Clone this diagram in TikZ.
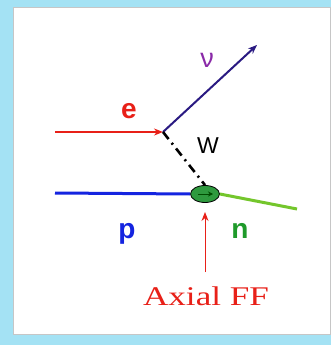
\documentclass[tikz,border=0pt]{standalone}
\usepackage{fontspec}
\setmainfont{Liberation Serif}
\newfontfamily\labelfont{Liberation Sans}
\usetikzlibrary{arrows.meta,positioning,shapes.geometric}
\definecolor{skyback}{HTML}{A4E2F4}
\definecolor{elecred}{HTML}{E82018}
\definecolor{nupurple}{HTML}{2A1A82}
\definecolor{nulabel}{HTML}{8A2AA8}
\definecolor{protblue}{HTML}{1424E0}
\definecolor{neutlime}{HTML}{74C62C}
\definecolor{neutgreen}{HTML}{1E9A2A}
\definecolor{blobgreen}{HTML}{2E9A3E}

\tikzset{
  plabel/.style={anchor=base,inner sep=0pt,font=\labelfont\bfseries\fontsize{28}{28}\selectfont},
  leg/.style={line width=3pt},
}

\begin{document}
\begin{tikzpicture}[x=1pt,y=-1pt]
\useasboundingbox (0,0) rectangle (331,345);
\fill[skyback] (0,0) rectangle (331,345);
\draw[gray!45,fill=white] (13,7) rectangle (330,334);

% vertices
\coordinate (vtx) at (163,132);
\node[ellipse,draw=black,thick,fill=blobgreen,minimum width=29pt,minimum height=17pt,inner sep=0pt] (blob) at (205,194) {};

% lepton side
\coordinate (ein) at (55,132);
\coordinate (nuout) at (257,45);
\draw[elecred,line width=1.5pt,-{Stealth[length=9pt,width=7pt]}] (ein) -- (vtx);
\draw[nupurple,line width=2pt,-{Stealth[length=9pt,width=7pt]}] (vtx) -- (nuout);
\draw[black,line width=2.6pt,dash pattern=on 9pt off 5pt on 2pt off 5pt] (vtx) -- (blob.north);

% hadron side
\coordinate (pin) at (55,193);
\coordinate (nout) at (297,209);
\draw[protblue,leg] (pin) -- (blob.west);
\draw[neutlime,leg] (blob.east) -- (nout);
\draw[black!70!green,line width=1pt,-{Stealth[length=5pt,width=5pt]}] ([xshift=-7pt]blob.center) -- ([xshift=8pt]blob.center);

% form factor
\node[elecred,anchor=base,inner sep=0pt,font=\fontsize{27}{27}\selectfont] (ff) at (206,305) {\scalebox{1.3}[1]{Axial FF}};
\coordinate (fftail) at (205,272);
\coordinate (fftip) at (205,212);
\draw[elecred,line width=1pt,-{Stealth[length=9pt,width=7pt]}] (fftail) -- (fftip);

% labels
\node[plabel,text=elecred] (elab) at (129,118) {e};
\node[plabel,text=nulabel,font=\labelfont\fontsize{27}{27}\selectfont] (nulab) at (207,67) {ν};
\node[plabel,text=black,font=\labelfont\fontsize{23}{23}\selectfont] (wlab) at (208,153) {W};
\node[plabel,text=protblue] (plab) at (127,238) {p};
\node[plabel,text=neutgreen] (nlab) at (240,238) {n};
\end{tikzpicture}
\end{document}
